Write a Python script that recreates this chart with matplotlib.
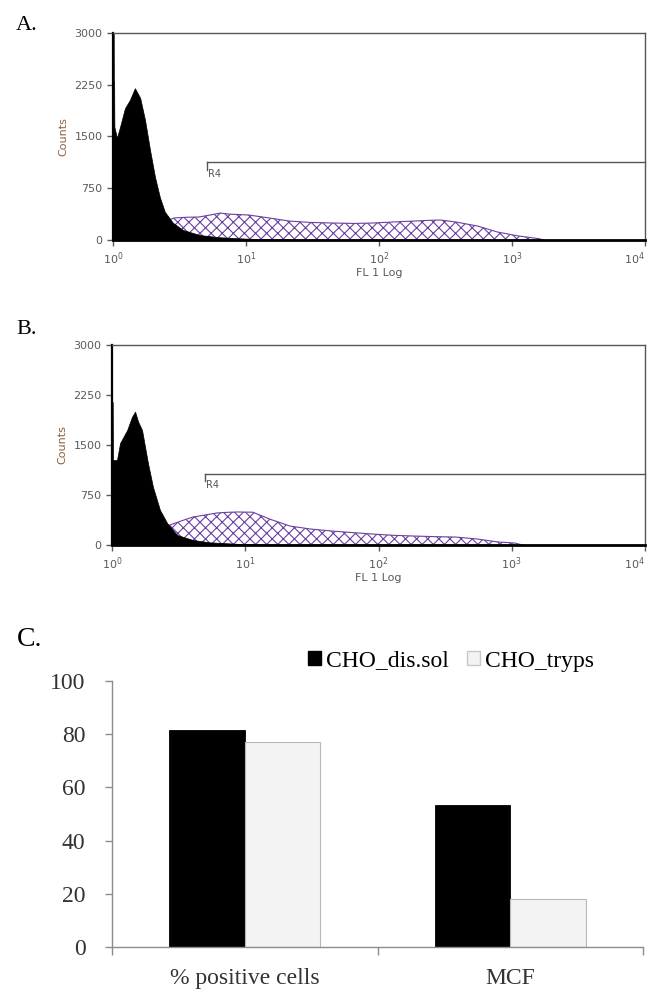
import numpy as np
import matplotlib
matplotlib.use('Agg')
import matplotlib.pyplot as plt
from matplotlib.patches import Patch
from matplotlib.ticker import LogFormatterMathtext, NullLocator

# ---- panel A: histogram data (FL1 intensity, counts) ----
fl_a_ctrl = [1.0, 1.012, 1.014, 1.02, 1.024, 1.07, 1.13, 1.23, 1.34, 1.46, 1.60,
             1.74, 1.90, 2.07, 2.25, 2.45, 2.82, 3.36, 4.5, 6.3, 10, 15, 25, 40]
cnt_a_ctrl = [3000, 3000, 2290, 2290, 1640, 1480, 1640, 1910, 2030, 2200, 2060,
              1740, 1300, 910, 620, 410, 250, 145, 72, 40, 20, 10, 5, 0]
fl_a_pos = [2.4, 2.88, 3.6, 4.4, 5.3, 6.4, 7.5, 10.5, 15, 21, 30, 45, 65, 89,
            130, 186, 240, 288, 380, 550, 776, 1120, 1585, 1740]
cnt_a_pos = [260, 319, 330, 333, 360, 390, 375, 362, 319, 275, 255, 246, 240, 246,
             262, 275, 285, 290, 260, 203, 116, 58, 20, 0]

# ---- panel B ----
fl_b_ctrl = [1.0, 1.012, 1.016, 1.09, 1.15, 1.30, 1.41, 1.49, 1.57, 1.68, 1.86,
             2.03, 2.29, 2.59, 3.08, 4.05, 5.4, 9.3, 15.5, 25]
cnt_b_ctrl = [2145, 2145, 1275, 1275, 1530, 1725, 1920, 2000, 1850, 1725, 1230,
              870, 525, 330, 150, 75, 40, 15, 5, 0]
fl_b_pos = [2.4, 2.72, 3.3, 4.05, 5.0, 6.1, 7.3, 8.7, 11.4, 15.3, 21.7, 31, 45,
            65, 91, 130, 188, 270, 380, 550, 790, 1050, 1210]
cnt_b_pos = [250, 300, 360, 420, 450, 480, 490, 495, 492, 388, 284, 239, 209,
             185, 164, 145, 134, 125, 119, 90, 45, 30, 0]

# gate R4: (start, level, tick bottom)
gate_a = (5.1, 1130, 1015)
gate_b = (5.0, 1060, 955)

# ---- panel C: bar chart ----
categories = ['% positive cells', 'MCF']
cho_dis_sol = [81.6, 53.4]
cho_tryps = [77.1, 18.0]

W, H = 650, 996
fig = plt.figure(figsize=(W / 100, H / 100), dpi=100)
plt.rcParams['hatch.linewidth'] = 0.8

purple = '#6b3fa0'
tick_gray = '#5a5a5a'


def hist_panel(rect, fl_ctrl, cnt_ctrl, fl_pos, cnt_pos, gate, letter, letter_y):
    ax = fig.add_axes(rect)
    ax.fill_between(fl_pos, cnt_pos, 0, facecolor='white', edgecolor=purple,
                    hatch='xxx', linewidth=0.8, zorder=1)
    ax.fill_between(fl_ctrl, cnt_ctrl, 0, facecolor='black', edgecolor='black',
                    linewidth=0.5, zorder=2)
    ax.set_xscale('log')
    ax.set_xlim(1, 1e4)
    ax.set_ylim(0, 3000)
    ax.set_yticks([0, 750, 1500, 2250, 3000])
    ax.set_xticks([1, 10, 100, 1000, 10000])
    ax.xaxis.set_major_formatter(LogFormatterMathtext())
    ax.xaxis.set_minor_locator(NullLocator())
    ax.tick_params(labelsize=8, colors=tick_gray, length=4, width=1.0, direction='out')
    # last decade label sits flush with the right edge, like the original
    fig.canvas.draw()
    ax.get_xticklabels()[-1].set_horizontalalignment('right')
    for s in ['top', 'right']:
        ax.spines[s].set_color('#555555')
        ax.spines[s].set_linewidth(1.0)
    ax.spines['left'].set_color('black')
    ax.spines['left'].set_linewidth(1.6)
    ax.spines['bottom'].set_color('black')
    ax.spines['bottom'].set_linewidth(2.0)
    # gate marker
    g0, glev, gbot = gate
    ax.plot([g0, 1e4], [glev, glev], color='#555555', lw=1.0, zorder=3, clip_on=False)
    ax.plot([g0, g0], [glev, gbot], color='#555555', lw=1.0, zorder=3)
    ax.text(g0 * 1.01, gbot + 15, 'R4', fontsize=7, color='#555555', va='top', ha='left')
    ax.set_xlabel('FL 1 Log', fontsize=8, color=tick_gray, labelpad=1)
    ax.set_ylabel('Counts', fontsize=8, color='#8b6040', labelpad=4)
    fig.text(16 / W, 1 - letter_y / H, letter, fontsize=16,
             family='Liberation Serif', va='center', ha='left')
    return ax


hist_panel([113 / W, 1 - 240 / H, 532 / W, 207 / H], fl_a_ctrl, cnt_a_ctrl,
           fl_a_pos, cnt_a_pos, gate_a, 'A.', 25)
hist_panel([112 / W, 1 - 545 / H, 533 / W, 200 / H], fl_b_ctrl, cnt_b_ctrl,
           fl_b_pos, cnt_b_pos, gate_b, 'B.', 329)

# ---- panel C ----
axc = fig.add_axes([112 / W, 1 - 947 / H, 531 / W, 266 / H])
x = np.arange(len(categories))
bw = 0.284
axc.bar(x - bw / 2, cho_dis_sol, bw, color='black', edgecolor='black', linewidth=0.6,
        label='CHO_dis.sol')
axc.bar(x + bw / 2, cho_tryps, bw, color='#f3f3f3', edgecolor='#b8b8b8', linewidth=0.8,
        label='CHO_tryps')
axc.set_xlim(-0.5, 1.5)
axc.set_ylim(0, 100)
axc.set_yticks([0, 20, 40, 60, 80, 100])
axc.set_xticks([-0.5, 0.5, 1.5])
axc.set_xticklabels([])
axc.tick_params(axis='y', length=5, width=1, color='#8c8c8c', pad=14,
                labelsize=17, labelcolor='#333333')
axc.tick_params(axis='x', length=6, width=1, color='#8c8c8c')
for s in ['top', 'right']:
    axc.spines[s].set_visible(False)
for s in ['left', 'bottom']:
    axc.spines[s].set_color('#8c8c8c')
    axc.spines[s].set_linewidth(1.0)
for lab in axc.get_yticklabels():
    lab.set_family('Liberation Serif')
for xi, cat in zip(x, categories):
    axc.text(xi, -12, cat, ha='center', va='center', fontsize=17,
             family='Liberation Serif', color='#333333')

handles = [Patch(facecolor='black', edgecolor='black', label='CHO_dis.sol'),
           Patch(facecolor='#f3f3f3', edgecolor='#c8c8c8', label='CHO_tryps')]
fig.legend(handles=handles, loc='center', bbox_to_anchor=(451 / W, 1 - 661 / H),
           ncol=2, frameon=False, handlelength=0.55, handleheight=0.55,
           handletextpad=0.2, columnspacing=0.8,
           prop={'family': 'Liberation Serif', 'size': 17})

fig.text(17 / W, 1 - 639 / H, 'C.', fontsize=20, family='Liberation Serif',
         va='center', ha='left')

fig.savefig('out.png', dpi=100)
